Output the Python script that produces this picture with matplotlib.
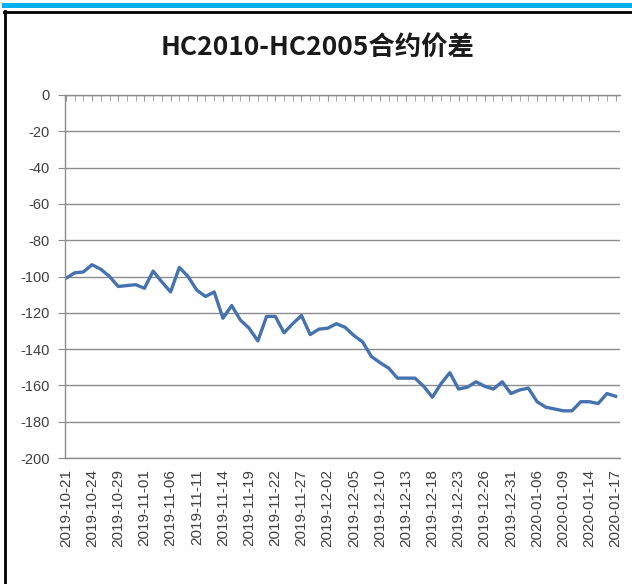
import numpy as np
import pandas as pd
import matplotlib
matplotlib.use("Agg")
import matplotlib.pyplot as plt
from matplotlib.patches import Rectangle
from matplotlib.lines import Line2D

# trading days 2019-10-21 .. 2020-01-17 (New Year holiday excluded)
dates = pd.bdate_range("2019-10-21", "2020-01-17")
dates = dates[dates != pd.Timestamp("2020-01-01")]
date_labels = [d.strftime("%Y-%m-%d") for d in dates]

# HC2010 - HC2005 spread
spread = [-101, -98, -97.5, -93.5, -96, -100, -105.5, -105, -104.5, -106.5,
          -97, -103, -108.5, -95, -100, -107.5, -111, -108.5, -123, -116,
          -124, -128.5, -135.5, -122, -122, -131, -126, -121.5, -132, -129,
          -128.5, -126, -128, -132.5, -136, -144, -147.5, -150.5, -156, -156,
          -156, -160.5, -166.5, -159, -153, -162, -161, -158, -160.5, -162,
          -158, -164.5, -162.5, -161.5, -169, -172, -173, -174, -174, -169,
          -169, -170, -164.5, -166]
yticks = list(range(-200, 1, 20))
title = "HC2010-HC2005合约价差"

W, H = 632, 584
fig = plt.figure(figsize=(W / 100, H / 100), dpi=100)

# blue strip on top and black frame
fig.add_artist(Rectangle((2 / W, 1 - 7.5 / H), 1, 4.5 / H, transform=fig.transFigure,
                         color="#00b0f0", lw=0))
fig.add_artist(Line2D([4 / W, 1], [1 - 12 / H] * 2, transform=fig.transFigure,
                      color="black", lw=2))
fig.add_artist(Line2D([5 / W] * 2, [1 - 11 / H, 0], transform=fig.transFigure,
                      color="black", lw=2))

fig.text(0.503, 1 - 48 / H, title, ha="center", va="center", fontsize=19,
         color="#1a1a1a", weight="bold", family=["Noto Sans CJK SC", "DejaVu Sans"])

ax = fig.add_axes([65 / W, 1 - 458 / H, (620 - 65) / W, (458 - 95) / H])
x = np.arange(len(spread))
ax.plot(x, spread, color="#4672b0", lw=2.4, solid_joinstyle="round")

ax.set_ylim(-200, 0)
ax.set_xlim(-0.1, len(spread) - 0.5)
ax.set_yticks(yticks)
ax.set_yticklabels([str(v) for v in yticks], family="Liberation Sans",
                   fontsize=10.5, color="#404040")
ax.yaxis.grid(True, color="#8c8c8c", lw=1)
ax.axhline(-200, color="#8c8c8c", lw=1, clip_on=False, zorder=0.5)
ax.set_axisbelow(True)

ax.set_xticks(x[::3])
ax.set_xticklabels(date_labels[::3], rotation=90, family="Liberation Sans",
                   fontsize=11, color="#404040")
ax.set_xticks(x, minor=True)
ax.tick_params(axis="x", which="both", bottom=False, top=True, direction="in",
               length=4, color="#9a9a9a", pad=8)
ax.tick_params(axis="y", length=5, color="#8c8c8c", pad=6)

for s in ["right", "bottom"]:
    ax.spines[s].set_visible(False)
for s in ["top", "left"]:
    ax.spines[s].set_color("#8c8c8c")
    ax.spines[s].set_linewidth(1)

fig.savefig("out.png", dpi=100)
